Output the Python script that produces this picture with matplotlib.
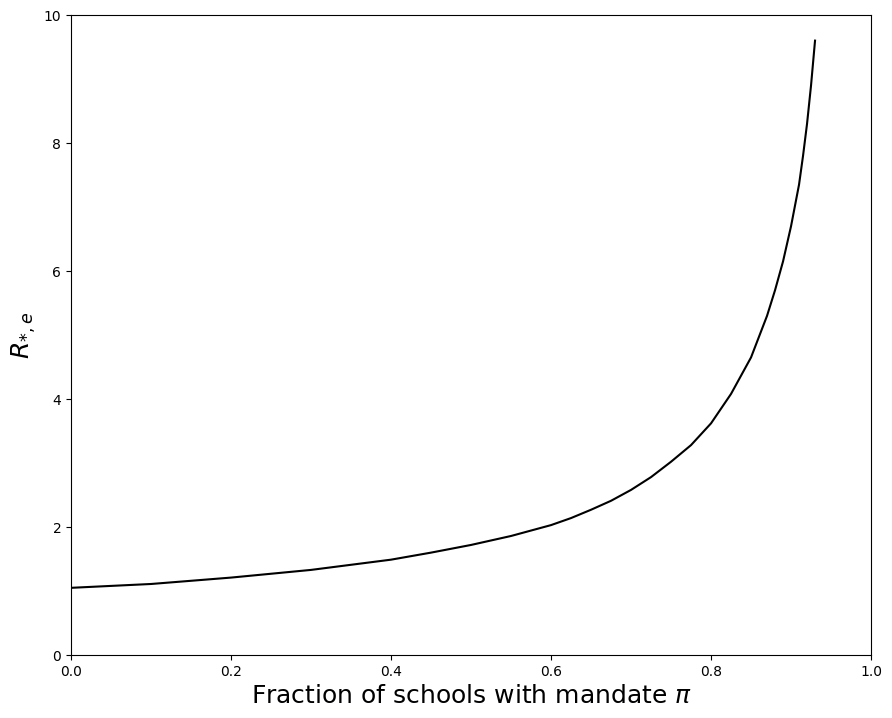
import matplotlib
matplotlib.use('Agg')
import matplotlib.pyplot as plt

# values
frac_mandate = [0.0, 0.05, 0.1, 0.15, 0.2, 0.25, 0.3, 0.35, 0.4, 0.45, 0.5, 0.55,
                0.6, 0.625, 0.65, 0.675, 0.7, 0.725, 0.75, 0.775, 0.8, 0.825,
                0.85, 0.87, 0.88, 0.89, 0.9, 0.91, 0.915, 0.92, 0.925, 0.93]
r_star_e = [1.05, 1.08, 1.11, 1.16, 1.21, 1.27, 1.33, 1.41, 1.49, 1.60, 1.72, 1.86,
            2.03, 2.14, 2.27, 2.41, 2.58, 2.78, 3.02, 3.28, 3.62, 4.08,
            4.65, 5.3, 5.7, 6.15, 6.7, 7.35, 7.8, 8.3, 8.9, 9.6]


def plot_curve():

	fig = plt.figure(figsize=(8.92, 7.18), dpi=100)
	ax = fig.add_axes([0.0796, 0.0877, 0.8969, 0.8914])

	ax.plot(frac_mandate, r_star_e, color='black', linewidth=1.5)

	ax.set_xlim(0, 1)
	ax.set_ylim(0, 10)
	ax.set_xlabel(r'Fraction of schools with mandate $\pi$', fontsize=18)
	ax.set_ylabel(r'$R_{*,e}$', fontsize=18)

	fig.savefig('out.png', dpi=100)


if __name__ == "__main__":

	plot_curve()
